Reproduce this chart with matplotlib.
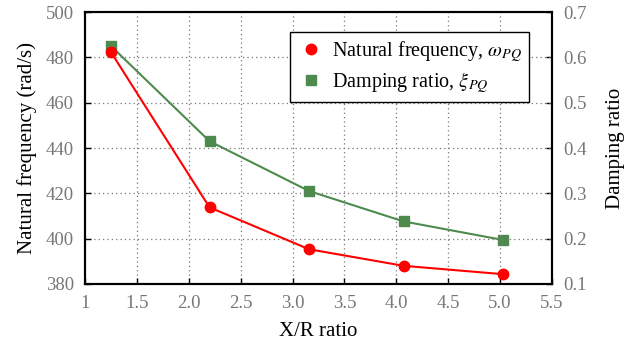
import matplotlib.pyplot as plt

plt.rcParams['font.family'] = ['Liberation Serif', 'DejaVu Serif']
plt.rcParams['mathtext.fontset'] = 'stix'

xr = [1.25, 2.2, 3.16, 4.07, 5.03]
freq = [482.3, 413.8, 395.3, 388.0, 384.3]
damp = [0.625, 0.415, 0.305, 0.238, 0.197]

fig, ax = plt.subplots(figsize=(6.3, 3.45), dpi=100)
ax2 = ax.twinx()

l1, = ax.plot(xr, freq, color='#ff0000', lw=1.5, marker='o', ms=7.5, zorder=3,
              label=r'Natural frequency, $\omega_{PQ}$')
l2, = ax2.plot(xr, damp, color='#4e8a4e', lw=1.5, marker='s', ms=7,
               label=r'Damping ratio, $\xi_{PQ}$')
ax.set_zorder(ax2.get_zorder() + 1)
ax.patch.set_visible(False)

ax.set_xlim(1, 5.5)
ax.set_ylim(380, 500)
ax2.set_ylim(0.1, 0.7)
ax.set_xticks([1, 1.5, 2, 2.5, 3, 3.5, 4, 4.5, 5, 5.5])
ax.set_xticklabels(['1', '1.5', '2.0', '2.5', '3.0', '3.5', '4.0', '4.5', '5.0', '5.5'])
ax.set_yticks(range(380, 501, 20))
ax2.set_yticks([0.1, 0.2, 0.3, 0.4, 0.5, 0.6, 0.7])

ax.grid(True, linestyle=(0, (1, 2.5)), color='#777777', lw=0.9)
for a in (ax, ax2):
    a.tick_params(labelsize=13.5, labelcolor='#777777', length=4, width=1,
                  direction='in', pad=8)
    for s in a.spines.values():
        s.set_linewidth(1.5)

ax.set_xlabel('X/R ratio', fontsize=15, labelpad=7)
ax.set_ylabel('Natural frequency (rad/s)', fontsize=15, labelpad=6)
ax2.set_ylabel('Damping ratio', fontsize=15, labelpad=14)

leg = ax.legend(handles=[l1, l2], loc='upper right', bbox_to_anchor=(0.951, 0.926),
                borderaxespad=0, fontsize=14.5, fancybox=False, edgecolor='black',
                framealpha=1, handletextpad=0.4, handlelength=1.3,
                labelspacing=0.3, borderpad=0.35)
for h in leg.legend_handles:
    h.set_linestyle('')
leg.get_frame().set_linewidth(1.0)

fig.subplots_adjust(left=0.135, right=0.876, top=0.965, bottom=0.177)
fig.savefig('out.png')
